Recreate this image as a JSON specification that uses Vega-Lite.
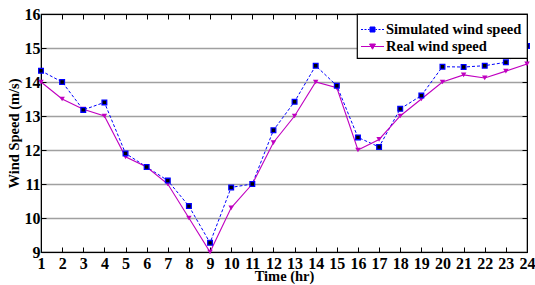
{
  "$schema": "https://vega.github.io/schema/vega-lite/v6.json",
  "width": 486,
  "height": 238,
  "autosize": {"type": "none"},
  "padding": {"left": 41, "top": 14, "right": 8, "bottom": 33},
  "background": "white",
  "config": {
    "font": "Liberation Serif",
    "view": {"stroke": "black", "strokeWidth": 1.2},
    "axis": {
      "labelFont": "Liberation Serif",
      "labelFontWeight": "bold",
      "labelFontSize": 16,
      "labelColor": "black",
      "titleFont": "Liberation Serif",
      "titleFontWeight": "bold",
      "titleFontSize": 14.5,
      "titleColor": "black",
      "domainColor": "black",
      "tickColor": "black",
      "tickSize": -5,
      "tickWidth": 1
    },
    "legend": {
      "strokeColor": "#000000",
      "strokeWidth": 1.2,
      "strokeDash": [],
      "cornerRadius": 0,
      "fillColor": "#ffffff",
      "padding": 5,
      "labelFont": "Liberation Serif",
      "labelFontWeight": "bold",
      "labelFontSize": 14.5,
      "labelColor": "black",
      "labelOffset": 3,
      "rowPadding": -3,
      "symbolSize": 400,
      "symbolOpacity": 1,
      "symbolStrokeWidth": 1,
      "zindex": 5
    }
  },
  "data": {
    "values": [
      {"t": 1, "series": "Simulated wind speed", "v": 14.33},
      {"t": 2, "series": "Simulated wind speed", "v": 14.0},
      {"t": 3, "series": "Simulated wind speed", "v": 13.18},
      {"t": 4, "series": "Simulated wind speed", "v": 13.4},
      {"t": 5, "series": "Simulated wind speed", "v": 11.9},
      {"t": 6, "series": "Simulated wind speed", "v": 11.5},
      {"t": 7, "series": "Simulated wind speed", "v": 11.1},
      {"t": 8, "series": "Simulated wind speed", "v": 10.35},
      {"t": 9, "series": "Simulated wind speed", "v": 9.27},
      {"t": 10, "series": "Simulated wind speed", "v": 10.9},
      {"t": 11, "series": "Simulated wind speed", "v": 11.0},
      {"t": 12, "series": "Simulated wind speed", "v": 12.58},
      {"t": 13, "series": "Simulated wind speed", "v": 13.42},
      {"t": 14, "series": "Simulated wind speed", "v": 14.48},
      {"t": 15, "series": "Simulated wind speed", "v": 13.89},
      {"t": 16, "series": "Simulated wind speed", "v": 12.37},
      {"t": 17, "series": "Simulated wind speed", "v": 12.09},
      {"t": 18, "series": "Simulated wind speed", "v": 13.21},
      {"t": 19, "series": "Simulated wind speed", "v": 13.6},
      {"t": 20, "series": "Simulated wind speed", "v": 14.45},
      {"t": 21, "series": "Simulated wind speed", "v": 14.44},
      {"t": 22, "series": "Simulated wind speed", "v": 14.48},
      {"t": 23, "series": "Simulated wind speed", "v": 14.58},
      {"t": 24, "series": "Simulated wind speed", "v": 15.06},
      {"t": 1, "series": "Real wind speed", "v": 14.0},
      {"t": 2, "series": "Real wind speed", "v": 13.5},
      {"t": 3, "series": "Real wind speed", "v": 13.2},
      {"t": 4, "series": "Real wind speed", "v": 13.0},
      {"t": 5, "series": "Real wind speed", "v": 11.8},
      {"t": 6, "series": "Real wind speed", "v": 11.5},
      {"t": 7, "series": "Real wind speed", "v": 11.0},
      {"t": 8, "series": "Real wind speed", "v": 10.0},
      {"t": 9, "series": "Real wind speed", "v": 9.0},
      {"t": 10, "series": "Real wind speed", "v": 10.3},
      {"t": 11, "series": "Real wind speed", "v": 11.0},
      {"t": 12, "series": "Real wind speed", "v": 12.22},
      {"t": 13, "series": "Real wind speed", "v": 13.0},
      {"t": 14, "series": "Real wind speed", "v": 14.0},
      {"t": 15, "series": "Real wind speed", "v": 13.83},
      {"t": 16, "series": "Real wind speed", "v": 12.0},
      {"t": 17, "series": "Real wind speed", "v": 12.31},
      {"t": 18, "series": "Real wind speed", "v": 13.0},
      {"t": 19, "series": "Real wind speed", "v": 13.5},
      {"t": 20, "series": "Real wind speed", "v": 14.0},
      {"t": 21, "series": "Real wind speed", "v": 14.21},
      {"t": 22, "series": "Real wind speed", "v": 14.12},
      {"t": 23, "series": "Real wind speed", "v": 14.32},
      {"t": 24, "series": "Real wind speed", "v": 14.53}
    ]
  },
  "encoding": {
    "x": {"field": "t", "type": "quantitative", "scale": {"domain": [1, 24], "nice": false, "zero": false}, "axis": null},
    "y": {"field": "v", "type": "quantitative", "scale": {"domain": [9, 16], "nice": false, "zero": false}, "axis": null}
  },
  "layer": [
    {
      "mark": {"type": "point", "opacity": 0},
      "encoding": {
        "x": {"field": "t", "type": "quantitative", "scale": {"domain": [1, 24], "nice": false, "zero": false}, "axis": {"orient": "top", "values": [1,2,3,4,5,6,7,8,9,10,11,12,13,14,15,16,17,18,19,20,21,22,23,24], "labels": false, "title": null, "grid": false}},
        "y": {"field": "v", "type": "quantitative", "scale": {"domain": [9, 16], "nice": false, "zero": false}, "axis": {"orient": "right", "values": [9,10,11,12,13,14,15,16], "labels": false, "title": null, "grid": false}}
      }
    },
    {
      "transform": [{"filter": "datum.series === 'Simulated wind speed'"}],
      "mark": {"type": "line", "color": "#0000FF", "strokeWidth": 1, "strokeDash": [3, 2]},
      "encoding": {
        "x": {"field": "t", "type": "quantitative", "scale": {"domain": [1, 24], "nice": false, "zero": false}, "axis": {"orient": "bottom", "values": [1,2,3,4,5,6,7,8,9,10,11,12,13,14,15,16,17,18,19,20,21,22,23,24], "title": "Time (hr)", "labelPadding": 8, "titlePadding": -2, "grid": false, "labelFlush": false}},
        "y": {"field": "v", "type": "quantitative", "scale": {"domain": [9, 16], "nice": false, "zero": false}, "axis": {"orient": "left", "values": [9,10,11,12,13,14,15,16], "title": "Wind Speed (m/s)", "labelPadding": 6, "titlePadding": 3, "grid": true, "gridColor": "#a0a0a0", "gridWidth": 1.6, "gridOpacity": 1}}
      }
    },
    {
      "transform": [{"filter": "datum.series === 'Real wind speed'"}],
      "mark": {"type": "line", "color": "#C000C0", "strokeWidth": 1.1},
      "encoding": {}
    },
    {
      "transform": [{"filter": "datum.series === 'Real wind speed'"}],
      "mark": {"type": "point", "shape": "triangle-down", "filled": true, "color": "#C000C0", "size": 30, "opacity": 1},
      "encoding": {}
    },
    {
      "transform": [{"filter": "datum.series === 'Simulated wind speed'"}],
      "mark": {"type": "square", "fill": "#000000", "stroke": "#0000FF", "strokeWidth": 1.3, "size": 22, "opacity": 1},
      "encoding": {}
    },
    {
      "transform": [{"filter": "datum.t < 0"}],
      "mark": {"type": "point", "filled": true},
      "encoding": {
        "color": {
          "field": "series", "type": "nominal",
          "scale": {"domain": ["Simulated wind speed", "Real wind speed"], "range": ["#0000FF", "#C000C0"]},
          "legend": {
            "title": null, "orient": "top-right", "offset": 0,
            "strokeColor": "#000000", "fillColor": "#ffffff",
            "encode": {
              "symbols": {"update": {"stroke": {"scale": "color", "field": "value"}, "fill": {"scale": "color", "field": "value"}, "opacity": {"value": 1}}}
            }
          }
        },
        "shape": {
          "field": "series", "type": "nominal",
          "scale": {"domain": ["Simulated wind speed", "Real wind speed"], "range": [
            "M-1.15,0H-0.95M-0.8,0H-0.6M-0.45,0H-0.3M0.3,0H0.45M0.6,0H0.8M0.95,0H1.15M-0.25,-0.25H0.25V0.25H-0.25Z",
            "M-1.15,0H1.15M-0.3,-0.25H0.3L0,0.27Z"
          ]},
          "legend": {
            "title": null, "orient": "top-right", "offset": 0,
            "strokeColor": "#000000", "fillColor": "#ffffff",
            "encode": {
              "symbols": {"update": {"stroke": {"scale": "color", "field": "value"}, "fill": {"scale": "color", "field": "value"}, "opacity": {"value": 1}}}
            }
          }
        }
      }
    }
  ],
  "resolve": {"axis": {"x": "independent", "y": "independent"}}
}
